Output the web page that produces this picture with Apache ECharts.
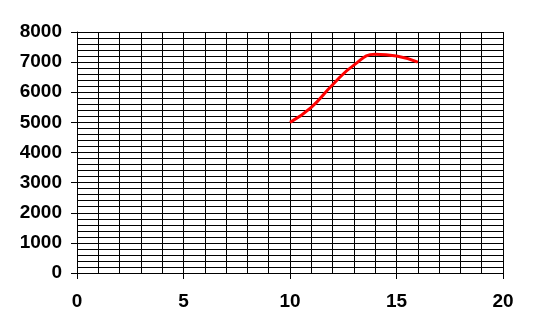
<!DOCTYPE html>
<html><head><meta charset="utf-8">
<script src="https://cdn.jsdelivr.net/npm/echarts@6/dist/echarts.min.js"></script>
<style>html,body{margin:0;padding:0;background:#fff}#c{width:533px;height:333px}</style>
</head><body><div id="c"></div>
<script>
var xValues = [10, 11, 12, 13, 14, 15, 16];
var yValues = [5000, 5500, 6250, 6900, 7260, 7200, 7000];
var chart = echarts.init(document.getElementById('c'), null, {renderer: 'canvas'});
var font = {fontFamily: 'Liberation Sans, Arial, sans-serif', fontWeight: 'bold', fontSize: 19, color: '#000'};
chart.setOption({
  animation: false,
  backgroundColor: '#fff',
  grid: {left: 77, right: 30, top: 32, bottom: 60, containLabel: false},
  xAxis: [{
    type: 'value', min: 0, max: 20, interval: 5,
    axisLine: {show: true, onZero: false, lineStyle: {color: '#000', width: 1}},
    axisTick: {show: true, length: 6, lineStyle: {color: '#000'}},
    axisLabel: Object.assign({margin: 19, formatter: function (v) { return String(v); }}, font),
    splitLine: {show: false}
  }, {
    type: 'value', min: 0, max: 20, interval: 1, position: 'bottom',
    axisLine: {show: false}, axisTick: {show: false}, axisLabel: {show: false},
    splitLine: {show: true, lineStyle: {color: '#000', width: 1}}
  }],
  yAxis: {
    type: 'value', min: 0, max: 8000, interval: 1000,
    axisLine: {show: true, lineStyle: {color: '#000', width: 1}},
    axisTick: {show: true, length: 6, lineStyle: {color: '#000'}},
    axisLabel: Object.assign({margin: 15, formatter: function (v) { return String(v); }}, font),
    splitLine: {show: true, lineStyle: {color: '#000', width: 1}},
    minorTick: {show: false, splitNumber: 5},
    minorSplitLine: {show: true, lineStyle: {color: '#000', width: 1}}
  },
  series: [{
    type: 'line', smooth: 0.5, symbol: 'none', xAxisIndex: 0,
    lineStyle: {color: '#ff0000', width: 3},
    data: xValues.map(function (x, i) { return [x, yValues[i]]; })
  }]
});
</script></body></html>
